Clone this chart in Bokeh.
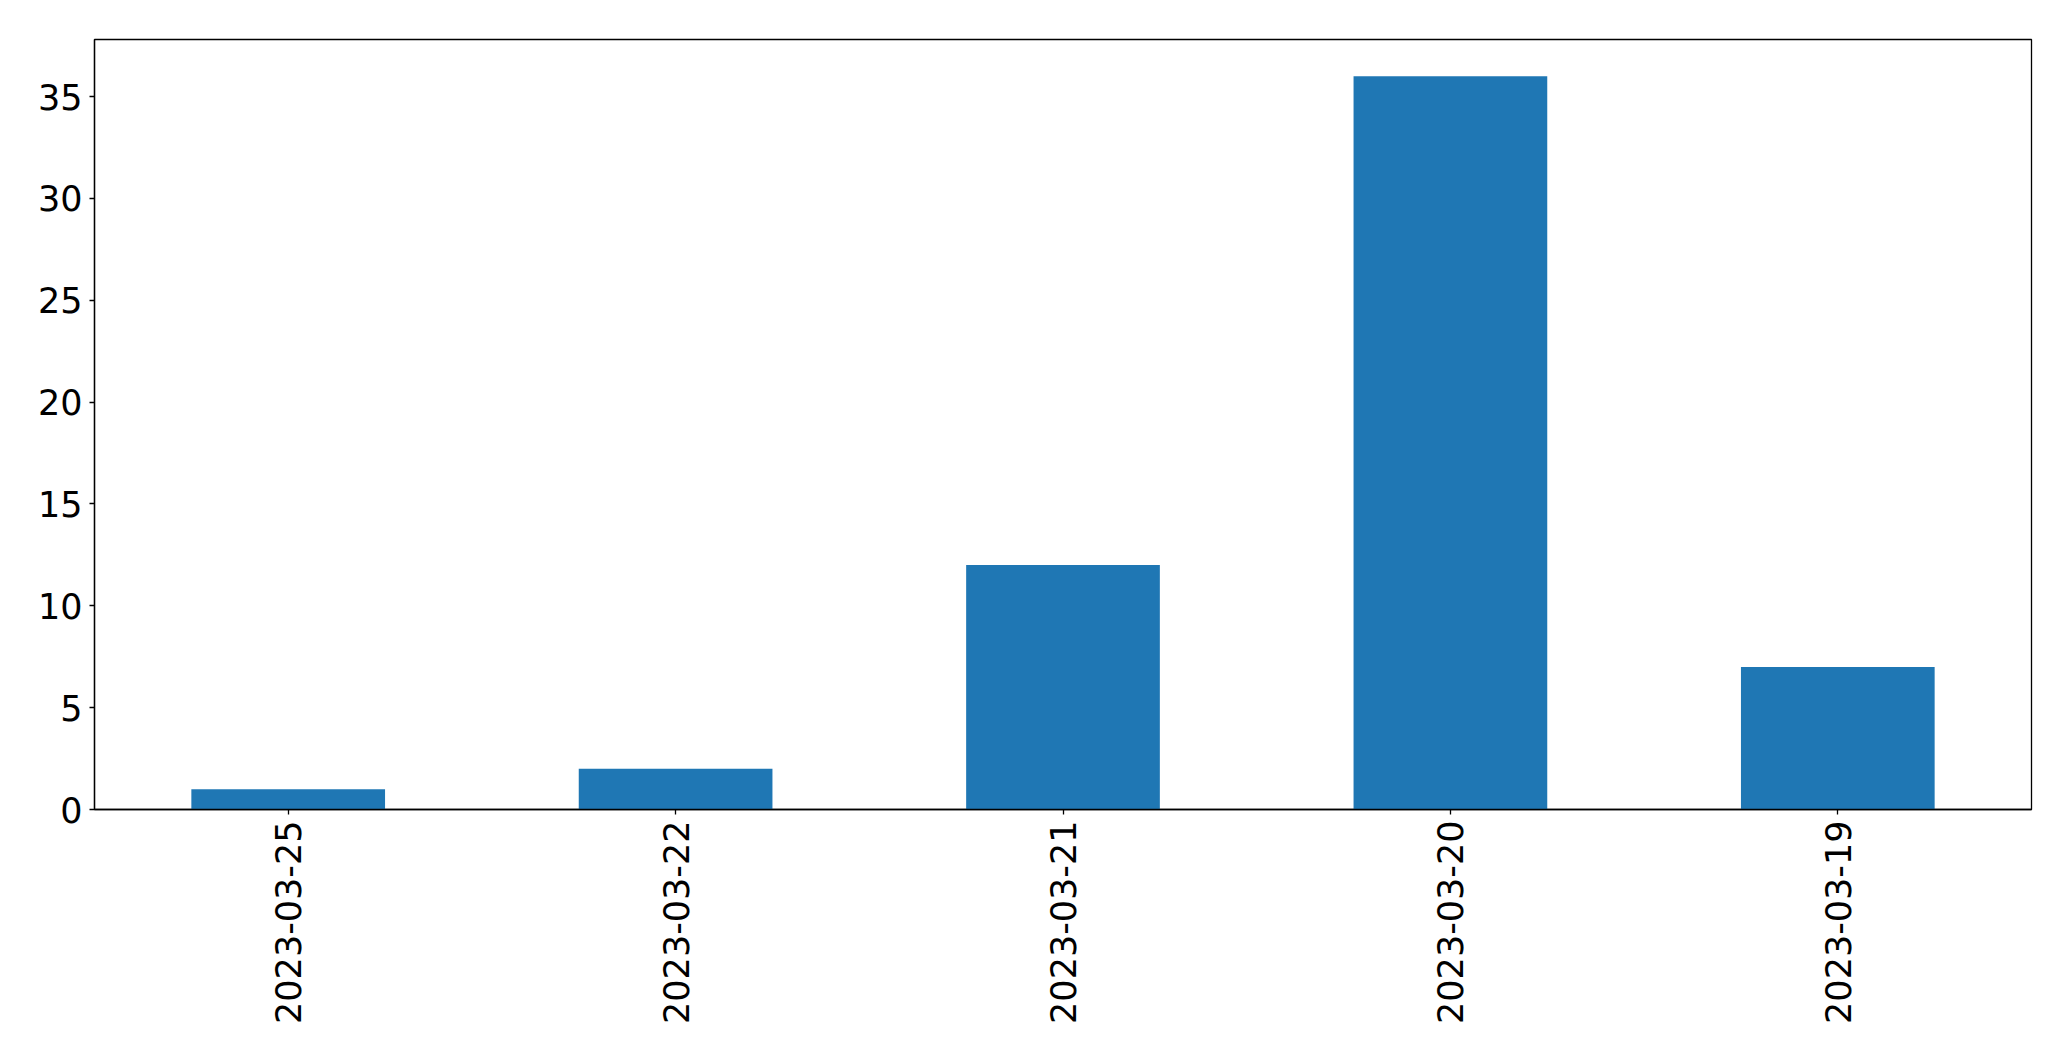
import math
from bokeh.plotting import figure
from bokeh.models import FactorRange, Range1d, FixedTicker, ColumnDataSource
from bokeh.embed import file_html
from bokeh.resources import INLINE

dates = ["2023-03-25", "2023-03-22", "2023-03-21", "2023-03-20", "2023-03-19"]
counts = [1, 2, 12, 36, 7]
y_ticks = [0, 5, 10, 15, 20, 25, 30, 35]

source = ColumnDataSource(data=dict(dates=dates, counts=counts))

p = figure(
    width=2055, height=1045,
    x_range=FactorRange(*dates, range_padding=0),
    y_range=Range1d(0, 37.8),
    output_backend="svg", toolbar_location=None,
    min_border_left=94, min_border_right=24, min_border_top=39, min_border_bottom=236,
)
p.vbar(x="dates", top="counts", width=0.5, source=source,
       fill_color="#1f77b4", line_color=None)

p.xgrid.visible = False
p.ygrid.visible = False
p.outline_line_color = "black"
p.outline_line_alpha = 1.0
p.outline_line_width = 1.3

p.yaxis.ticker = FixedTicker(ticks=y_ticks)
for ax in (p.xaxis[0], p.yaxis[0]):
    ax.axis_line_color = "black"
    ax.axis_line_width = 1.3
    ax.major_tick_in = 0
    ax.major_tick_out = 5
    ax.major_tick_line_color = "black"
    ax.major_tick_line_width = 1.3
    ax.minor_tick_line_color = None
    ax.major_label_text_font = "DejaVu Sans"
    ax.major_label_text_font_size = "35px"
    ax.major_label_text_color = "black"
p.yaxis.major_label_standoff = 7
p.xaxis.major_label_standoff = 6
p.xaxis.major_label_orientation = math.pi / 2

p.background_fill_color = "white"
p.border_fill_color = "white"

open("out.html", "w").write(file_html(p, INLINE))
